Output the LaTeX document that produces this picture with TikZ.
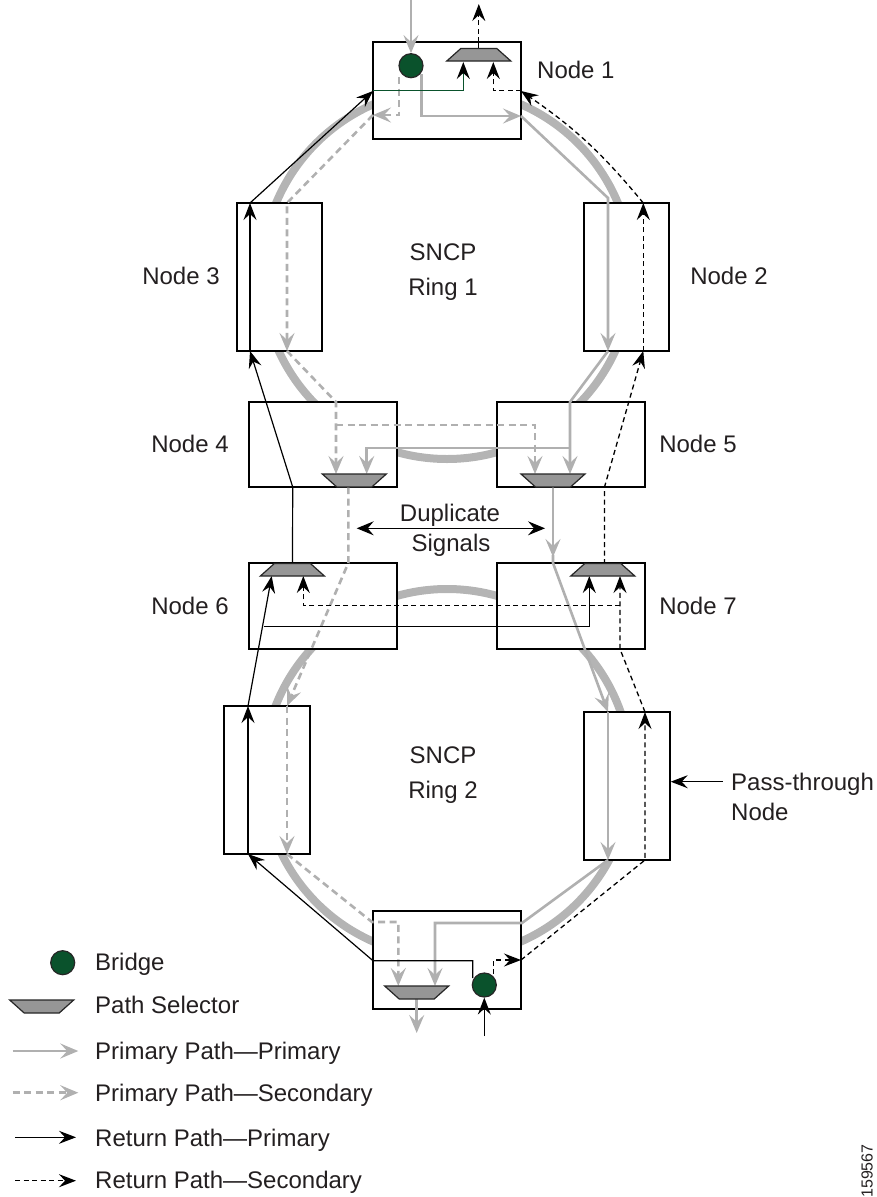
\documentclass[tikz,border=0pt]{standalone}
\usepackage{fontspec}
\setmainfont{Liberation Sans}
\usetikzlibrary{arrows.meta}
\definecolor{lgray}{RGB}{180,180,180}
\definecolor{pgray}{RGB}{176,176,176}
\definecolor{selfill}{RGB}{150,150,150}
\definecolor{bgreen}{RGB}{10,82,44}
\definecolor{txt}{RGB}{35,31,32}
\tikzset{
  ring/.style={line width=8pt, draw=lgray},
  box/.style={draw=black, line width=1.4pt, fill=white, rectangle, inner sep=0pt},
  gtip/.style={-{Stealth[length=18pt,width=15pt,inset=7pt]}},
  btip/.style={-{Stealth[length=17pt,width=13pt,inset=6pt]}},
  prim/.style={draw=pgray, line width=2.6pt},
  secd/.style={draw=pgray, line width=2.6pt, dash pattern=on 7pt off 4.5pt},
  retp/.style={draw=black, line width=1.2pt},
  rets/.style={draw=black, line width=1.3pt, dash pattern=on 5pt off 3.5pt},
  gline/.style={draw=bgreen, line width=1.4pt},
  sel/.style={fill=selfill, draw=black!85, line width=1.2pt, line join=miter},
  bridge/.style={circle, fill=bgreen, draw=black!85, line width=1.2pt, minimum size=24pt, inner sep=0pt},
  lbl/.style={font=\fontsize{24}{28}\selectfont, text=txt, inner sep=0pt},
}
\newcommand\selDn[2]{\draw[sel] ({#1-32},{#2}) -- ({#1+32},{#2}) -- ({#1+17.5},{#2+13}) -- ({#1-17.5},{#2+13}) -- cycle;}
\newcommand\selUp[2]{\draw[sel] ({#1-18},{#2}) -- ({#1+18},{#2}) -- ({#1+32},{#2+12.5}) -- ({#1-32},{#2+12.5}) -- cycle;}
\begin{document}
\begin{tikzpicture}[x=1pt,y=-1pt]
\useasboundingbox (0,0) rectangle (876,1197);
% rings
\draw[ring] (447,274) circle[radius=185pt];
\draw[ring] (447,773) circle[radius=184pt];
% boxes
\node[box,minimum width=148pt,minimum height=97pt] (n1) at (447,90.5) {};
\node[box,minimum width=85pt,minimum height=148pt] (n3) at (279.5,277) {};
\node[box,minimum width=85pt,minimum height=148pt] (n2) at (626.5,277) {};
\node[box,minimum width=148pt,minimum height=85pt] (n4) at (323,444.5) {};
\node[box,minimum width=148pt,minimum height=85pt] (n5) at (571,444.5) {};
\node[box,minimum width=148pt,minimum height=86pt] (n6) at (323,606) {};
\node[box,minimum width=148pt,minimum height=86pt] (n7) at (571,606) {};
\node[box,minimum width=86pt,minimum height=148pt] (n8) at (267,780) {};
\node[box,minimum width=86pt,minimum height=148pt] (pt) at (627,786) {};
\node[box,minimum width=148pt,minimum height=98pt] (nb) at (447,960) {};
% bridges
\node[bridge] (b1) at (411,65.7) {};
\node[bridge] (b2) at (484.3,985) {};
% primary path - primary
\draw[prim,gtip] (411,0) -- (b1.north);
\draw[prim,gtip] (421.7,74) -- (421.7,116) -- (521,116);
\draw[prim,gtip] (521,116) -- (608,198) -- (608,351);
\draw[prim,gtip] (608,351) -- (570,402) -- (570,474);
\draw[prim,gtip] (570,448) -- (366.7,448) -- (366.7,474);
\draw[prim,gtip] (553,487) -- (553,557);
\draw[prim,gtip] (553,555) -- (553,563) -- (608,712);
\draw[prim,gtip] (608,712) -- (608,860);
\draw[prim,gtip] (608,860) -- (522,923) -- (435,923) -- (435,986);
\draw[prim,gtip] (416.7,999) -- (416.7,1033);
% primary path - secondary
\draw[secd,gtip] (399,77) -- (399,115) -- (373,115);
\draw[secd,gtip] (373,115) -- (287,203) -- (287,351);
\draw[secd,gtip] (287,351) -- (336,402) -- (336,474);
\draw[secd,gtip] (336,425) -- (535,425) -- (535,474);
\draw[secd,gtip] (348.3,487) -- (348.3,563) -- (287,706);
\draw[secd,gtip] (287,706) -- (287,854);
\draw[secd,gtip] (287,854) -- (372,922) -- (398.3,922) -- (398.3,986);
% return path - primary
\draw[retp,btip] (484.3,1036) -- (b2.south);
\draw[retp,btip] (472.7,978) -- (472.7,960.7) -- (373,960.7) -- (248,854);
\draw[retp,btip] (248,854) -- (248,706);
\draw[retp,btip] (248,706) -- (271.7,576);
\draw[retp,btip] (264,626.7) -- (589.3,626.7) -- (589.3,576);
\draw[retp,btip] (292.5,564) -- (292.7,487) -- (250,351);
\draw[retp,btip] (250,351) -- (250,203);
\draw[retp,btip] (250,203) -- (373,91);
\draw[gline,-{Stealth[length=17pt,width=13pt,inset=6pt,color=black]}] (373,90.7) -- (463.3,90.7) -- (463.3,62);
% return path - secondary
\draw[rets,btip] (493.3,974) -- (493.3,960) -- (521,960);
\draw[rets,btip] (521,960) -- (645,860) -- (645,712);
\draw[rets,btip] (645,712) -- (620,649) -- (620,576);
\draw[rets,btip] (620,605.7) -- (303.3,605.7) -- (303.3,576);
\draw[rets,btip] (604.5,564) -- (604.5,487) -- (643.3,351);
\draw[rets,btip] (643.3,351) -- (643.3,203);
\draw[rets,btip] (643.3,203) to[bend right=8] (521,91);
\draw[rets,btip] (521,90.7) -- (493.3,90.7) -- (493.3,62);
\draw[retp] (478.8,48.5) -- (478.8,42);
\draw[rets,btip] (478.8,42) -- (478.8,4);
% selectors
\selUp{478.8}{48.5}
\selUp{292.4}{563.5}
\selUp{602.8}{563.5}
\selDn{354.3}{474}
\selDn{553}{474}
\selDn{416.7}{986}
% labels
\node[lbl,anchor=base west] (t1) at (537,78.3) {Node 1};
\node[lbl,anchor=base] (t3) at (181,284.5) {Node 3};
\node[lbl,anchor=base] (t2) at (729,284.5) {Node 2};
\node[lbl,anchor=base] (r1a) at (443,260) {SNCP};
\node[lbl,anchor=base] (r1b) at (443,295) {Ring 1};
\node[lbl,anchor=base] (t4) at (190,452.8) {Node 4};
\node[lbl,anchor=base] (t5) at (698,452.8) {Node 5};
\node[lbl,anchor=base] (dup1) at (450,521.7) {Duplicate};
\node[lbl,anchor=base] (dup2) at (451,551) {Signals};
\draw[retp,{Stealth[length=17pt,width=14pt,inset=6pt]}-{Stealth[length=17pt,width=14pt,inset=6pt]}] (356.7,528.3) -- (545,528.3);
\node[lbl,anchor=base] (t6) at (190,614) {Node 6};
\node[lbl,anchor=base] (t7) at (698,614) {Node 7};
\node[lbl,anchor=base] (r2a) at (443,763) {SNCP};
\node[lbl,anchor=base] (r2b) at (443,798) {Ring 2};
\node[lbl,anchor=base west] (pa) at (731,790) {Pass-through};
\node[lbl,anchor=base west] (pb) at (731,820) {Node};
\coordinate (pastart) at (722.7,781.7);
\draw[retp,-{Stealth[length=17pt,width=13pt,inset=6pt]}] (pastart) -- (pt.east |- pastart);
% legend
\node[bridge] (lb) at (62.7,962.7) {};
\selDn{41.7}{1000}
\draw[prim,gtip] (12.7,1051) -- (78.3,1051);
\draw[secd,gtip] (12.7,1092.7) -- (78.3,1092.7);
\draw[retp,btip] (15,1137.3) -- (76,1137.3);
\draw[rets,btip] (15,1180.7) -- (76,1180.7);
\node[lbl,anchor=base west] (l1) at (95,970.7) {Bridge};
\node[lbl,anchor=base west] (l2) at (95,1013.3) {Path Selector};
\node[lbl,anchor=base west] (l3) at (95,1059.3) {Primary Path—Primary};
\node[lbl,anchor=base west] (l4) at (95,1101.7) {Primary Path—Secondary};
\node[lbl,anchor=base west] (l5) at (95,1146) {Return Path—Primary};
\node[lbl,anchor=base west] (l6) at (95,1188.3) {Return Path—Secondary};
\node[font=\fontsize{16}{18}\selectfont, text=txt, rotate=90, inner sep=0pt] (id) at (867,1171) {159567};
\end{tikzpicture}
\end{document}
